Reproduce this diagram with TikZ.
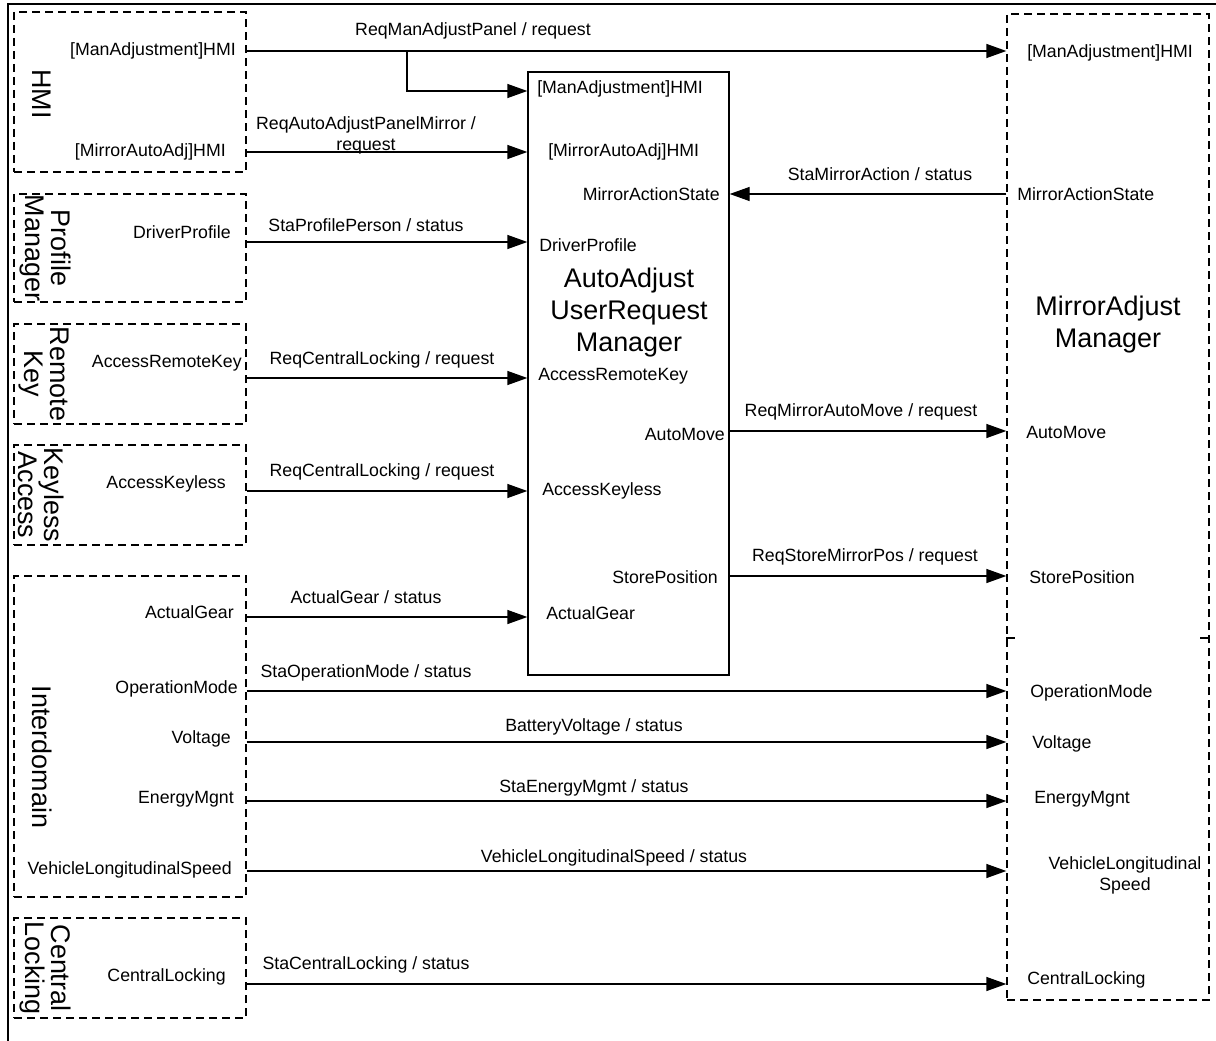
\documentclass[tikz,border=0pt]{standalone}
\usepackage{fontspec}
\setmainfont{Liberation Sans}
\usetikzlibrary{arrows.meta,fit}

\newcommand{\portfont}{\fontsize{13.3}{15.75}\selectfont}
\newcommand{\titlefont}{\fontsize{20.2}{24}\selectfont}
\newcommand{\sidefont}{\fontsize{20.2}{19.5}\selectfont}

\tikzset{
  grpbox/.style={draw, line width=1pt, dash pattern=on 6pt off 3.75pt, inner sep=0pt},
  compbox/.style={draw, line width=1pt, inner sep=0pt},
  flow/.style={line width=1pt, -{Triangle[length=15pt,width=10.5pt]}},
  port/.style={inner sep=0pt, font=\portfont},
  msg/.style={inner sep=0pt, font=\portfont, align=center},
  side/.style={inner sep=0pt, font=\sidefont, align=center, rotate=-90}
}

\begin{document}
\begin{tikzpicture}[x=0.75pt, y=-0.75pt]
\useasboundingbox (0,0) rectangle (1216,1041);

% frame
\draw [line width=1.5pt] (8,1041) -- (8,4) -- (1216,4);

% left side groups
\node (hmi) [grpbox, fit={(14,12) (246,172)}] {};
\node (profile) [grpbox, fit={(14,194) (246,302)}] {};
\node (remote) [grpbox, fit={(14,324) (246,424)}] {};
\node (keyless) [grpbox, fit={(14,445) (246,545)}] {};
\node (interdomain) [grpbox, fit={(14,576) (246,897)}] {};
\node (central) [grpbox, fit={(14,918) (246,1018)}] {};

\node (hminame) [side] at (42,94) {HMI};
\node (profilename) [side] at (45,248) {Profile\\Manager};
\node (remotename) [side] at (44,374) {Remote\\Key};
\node (keylessname) [side] at (41,495) {Keyless\\Access};
\node (interdomainname) [side] at (42,757) {Interdomain};
\node (centralname) [side] at (45,968) {Central\\Locking};

% user request manager and mirror manager
\node (aaum) [compbox, fit={(528,72) (729,675)}] {};
\node (aaumname) [inner sep=0pt, font=\titlefont, align=center] at (629,313) {AutoAdjust\\UserRequest\\Manager};

\node (mam) [grpbox, fit={(1007,14) (1209,1000)}] {};
\node (mamname) [inner sep=0pt, font=\titlefont, align=center] at (1108,325) {MirrorAdjust\\Manager};
\draw [line width=1pt] (mam.west |- 0,638) -- +(9,0);
\draw [line width=1pt] (mam.east |- 0,638) -- +(-10,0);

% ports of the left groups
\node (hmiManAdj) [port, anchor=east] at (236,51) {[ManAdjustment]HMI};
\node (hmiAutoAdj) [port, anchor=east] at (226,152) {[MirrorAutoAdj]HMI};
\node (pmDriver) [port, anchor=east] at (231,232) {DriverProfile};
\node (rkAccess) [port, anchor=east] at (242,363) {AccessRemoteKey};
\node (kaAccess) [port, anchor=east] at (226,484) {AccessKeyless};
\node (idGear) [port, anchor=east] at (234,612) {ActualGear};
\node (idOpMode) [port, anchor=east] at (238,689) {OperationMode};
\node (idVoltage) [port, anchor=east] at (231,739) {Voltage};
\node (idEnergy) [port, anchor=east] at (234,799) {EnergyMgnt};
\node (idSpeed) [port, anchor=east] at (232,870) {VehicleLongitudinalSpeed};
\node (clLocking) [port, anchor=east] at (226,977) {CentralLocking};

% ports of the user request manager
\node (uManAdj) [port, anchor=west] at (537,89) {[ManAdjustment]HMI};
\node (uAutoAdj) [port, anchor=west] at (548,152) {[MirrorAutoAdj]HMI};
\node (uAction) [port, anchor=east] at (720,194) {MirrorActionState};
\node (uDriver) [port, anchor=west] at (539,245) {DriverProfile};
\node (uRemote) [port, anchor=west] at (538,376) {AccessRemoteKey};
\node (uAutoMove) [port, anchor=east] at (725,434) {AutoMove};
\node (uKeyless) [port, anchor=west] at (542,491) {AccessKeyless};
\node (uStore) [port, anchor=east] at (718,577) {StorePosition};
\node (uGear) [port, anchor=west] at (546,613) {ActualGear};

% ports of the mirror manager
\node (mManAdj) [port, anchor=west] at (1027,53) {[ManAdjustment]HMI};
\node (mAction) [port, anchor=west] at (1017,194) {MirrorActionState};
\node (mAutoMove) [port, anchor=west] at (1026,432) {AutoMove};
\node (mStore) [port, anchor=west] at (1029,577) {StorePosition};
\node (mOpMode) [port, anchor=west] at (1030,693) {OperationMode};
\node (mVoltage) [port, anchor=west] at (1032,744) {Voltage};
\node (mEnergy) [port, anchor=west] at (1034,799) {EnergyMgnt};
\node (mSpeed) [msg] at (1125,875) {VehicleLongitudinal\\Speed};
\node (mLocking) [port, anchor=west] at (1027,980) {CentralLocking};

% signal levels
\coordinate (yManAdj) at (0,51);
\coordinate (yManAdjIn) at (0,91);
\coordinate (split) at (407,51);
\coordinate (yAutoAdj) at (0,152);
\coordinate (yAction) at (0,194);
\coordinate (yDriver) at (0,242);
\coordinate (yRemote) at (0,378);
\coordinate (yAutoMove) at (0,431);
\coordinate (yKeyless) at (0,491);
\coordinate (yStore) at (0,576);
\coordinate (yGear) at (0,617);
\coordinate (yOpMode) at (0,691);
\coordinate (yVoltage) at (0,742);
\coordinate (yEnergy) at (0,801);
\coordinate (ySpeed) at (0,871);
\coordinate (yLocking) at (0,984);

% connectors
\draw [flow] (hmi.east |- yManAdj) -- (mam.west |- yManAdj);
\draw [flow] (split) |- (aaum.west |- yManAdjIn);
\draw [flow] (hmi.east |- yAutoAdj) -- (aaum.west |- yAutoAdj);
\draw [flow] (mam.west |- yAction) -- (aaum.east |- yAction);
\draw [flow] (profile.east |- yDriver) -- (aaum.west |- yDriver);
\draw [flow] (remote.east |- yRemote) -- (aaum.west |- yRemote);
\draw [flow] (aaum.east |- yAutoMove) -- (mam.west |- yAutoMove);
\draw [flow] (keyless.east |- yKeyless) -- (aaum.west |- yKeyless);
\draw [flow] (aaum.east |- yStore) -- (mam.west |- yStore);
\draw [flow] (interdomain.east |- yGear) -- (aaum.west |- yGear);
\draw [flow] (interdomain.east |- yOpMode) -- (mam.west |- yOpMode);
\draw [flow] (interdomain.east |- yVoltage) -- (mam.west |- yVoltage);
\draw [flow] (interdomain.east |- yEnergy) -- (mam.west |- yEnergy);
\draw [flow] (interdomain.east |- ySpeed) -- (mam.west |- ySpeed);
\draw [flow] (central.east |- yLocking) -- (mam.west |- yLocking);

% messages
\node (msgManAdj) [msg] at (473,31) {ReqManAdjustPanel / request};
\node (msgAutoAdj) [msg] at (366,135) {ReqAutoAdjustPanelMirror /\\request};
\node (msgAction) [msg] at (880,174) {StaMirrorAction / status};
\node (msgDriver) [msg] at (366,225) {StaProfilePerson / status};
\node (msgRemote) [msg] at (382,360) {ReqCentralLocking / request};
\node (msgAutoMove) [msg] at (861,412) {ReqMirrorAutoMove / request};
\node (msgKeyless) [msg] at (382,472) {ReqCentralLocking / request};
\node (msgStore) [msg] at (865,557) {ReqStoreMirrorPos / request};
\node (msgGear) [msg] at (366,597) {ActualGear / status};
\node (msgOpMode) [msg] at (366,673) {StaOperationMode / status};
\node (msgVoltage) [msg] at (594,727) {BatteryVoltage / status};
\node (msgEnergy) [msg] at (594,788) {StaEnergyMgmt / status};
\node (msgSpeed) [msg] at (614,858) {VehicleLongitudinalSpeed / status};
\node (msgLocking) [msg] at (366,965) {StaCentralLocking / status};

\end{tikzpicture}
\end{document}
